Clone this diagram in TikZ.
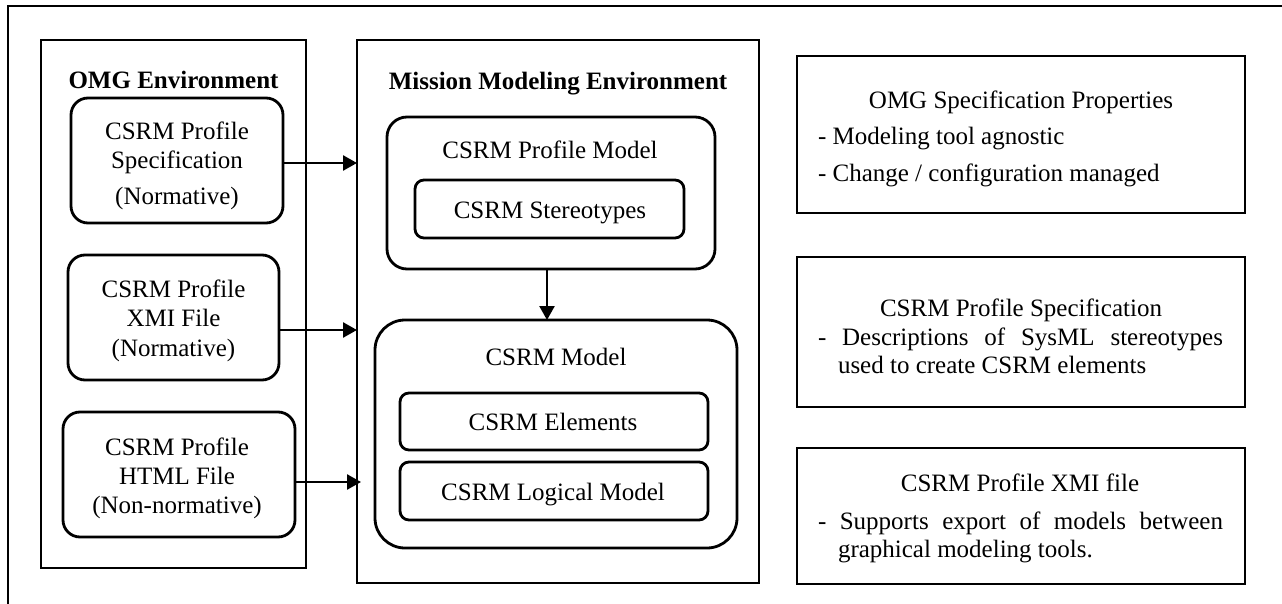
\documentclass[tikz,border=0pt]{standalone}
\usepackage{fontspec}
\setmainfont{Liberation Serif}
\usetikzlibrary{arrows.meta}
\begin{document}
\begin{tikzpicture}[x=1pt,y=-1pt,
  every node/.style={font=\fontsize{25}{29.2}\selectfont, inner sep=0pt, outer sep=0pt},
  frame/.style={draw, line width=2.8pt, rectangle},
  rbox/.style={draw, line width=2.8pt, rectangle, rounded corners=#1},
  txt/.style={anchor=base},
  ltxt/.style={anchor=base west},
  ttl/.style={anchor=base, font=\fontsize{25}{29.2}\selectfont\bfseries},
  arr/.style={line width=2.5pt, -{Triangle[length=14pt,width=15pt]}},
]
\useasboundingbox (0,0) rectangle (1282,604);
% outer border (cropped)
\draw[line width=2.3pt] (1284,6) -- (8,6) -- (8,606);

% OMG environment
\node[frame, minimum width=265pt, minimum height=528pt] (omg) at (173.5,304) {};
\node[ttl] (omgt) at (173.5,88.3) {OMG Environment};
\node[rbox=17pt, minimum width=212pt, minimum height=125pt] (b1) at (177,160.5) {};
\node[txt] (b1t) at (177,139.3) {\begin{tabular}[t]{@{}c@{}}CSRM Profile\\ Specification\\[7.3pt] (Normative)\end{tabular}};
\node[rbox=17pt, minimum width=211pt, minimum height=125pt] (b2) at (173.5,317.5) {};
\node[txt] (b2t) at (173.5,297.7) {\begin{tabular}[t]{@{}c@{}}CSRM Profile\\ XMI File\\ (Normative)\end{tabular}};
\node[rbox=17pt, minimum width=232pt, minimum height=125pt] (b3) at (179,474.5) {};
\node[txt] (b3t) at (177,455) {\begin{tabular}[t]{@{}c@{}}CSRM Profile\\ HTML File\\ (Non-normative)\end{tabular}};

% Mission modeling environment
\node[frame, minimum width=402pt, minimum height=543pt] (mme) at (558,311.5) {};
\node[ttl] (mmet) at (558,89.3) {Mission Modeling Environment};
\node[rbox=20pt, minimum width=328pt, minimum height=152pt] (pm) at (551,193) {};
\node[txt] (pmt) at (550,158.3) {CSRM Profile Model};
\node[rbox=9pt, minimum width=269pt, minimum height=58pt] (st) at (549.5,209) {};
\node[txt] (stt) at (550,218.3) {CSRM Stereotypes};
\node[rbox=30pt, minimum width=362pt, minimum height=228pt] (cm) at (556,434) {};
\node[txt] (cmt) at (556,365.7) {CSRM Model};
\node[rbox=9pt, minimum width=308pt, minimum height=57pt] (el) at (554,421.5) {};
\node[txt] (elt) at (553,430.7) {CSRM Elements};
\node[rbox=9pt, minimum width=308pt, minimum height=58pt] (lg) at (554,491) {};
\node[txt] (lgt) at (553,500) {CSRM Logical Model};

% arrows
\draw[arr] ([yshift=-2.5pt]b1.east) -- ([yshift=-2.5pt]b1.east -| mme.west);
\draw[arr] ([yshift=-12.5pt]b2.east) -- ([yshift=-12.5pt]b2.east -| mme.west);
\draw[arr] ([yshift=-7.5pt]b3.east) -- ([xshift=4pt,yshift=-7.5pt]b3.east -| mme.west);
\draw[arr] ([xshift=-4pt]pm.south) -- ([xshift=-4pt]pm.south |- cm.north);

% right boxes
\node[frame, minimum width=448pt, minimum height=157pt] (ra) at (1021,134.5) {};
\node[txt] (rat) at (1021,108.3) {OMG Specification Properties};
\node[ltxt] (ra1) at (818,145) {- Modeling tool agnostic};
\node[ltxt] (ra2) at (818,181.7) {- Change / configuration managed};

\node[frame, minimum width=448pt, minimum height=150pt] (rb) at (1021,332) {};
\node[txt] (rbt) at (1021,316.7) {CSRM Profile Specification};
\node[ltxt] (rb1) at (818,345) {\parbox[t]{405pt}{\fontsize{25}{28.3}\selectfont\hangindent=20pt\hangafter=1 - Descriptions of SysML stereotypes\linebreak used to create CSRM elements}};

\node[frame, minimum width=448pt, minimum height=136pt] (rc) at (1021,516) {};
\node[txt] (rct) at (1020,491.7) {CSRM Profile XMI file};
\node[ltxt] (rc1) at (818,529.3) {\parbox[t]{405pt}{\fontsize{25}{28}\selectfont\hangindent=20pt\hangafter=1 - Supports export of models between\linebreak graphical modeling tools.}};
\end{tikzpicture}
\end{document}
